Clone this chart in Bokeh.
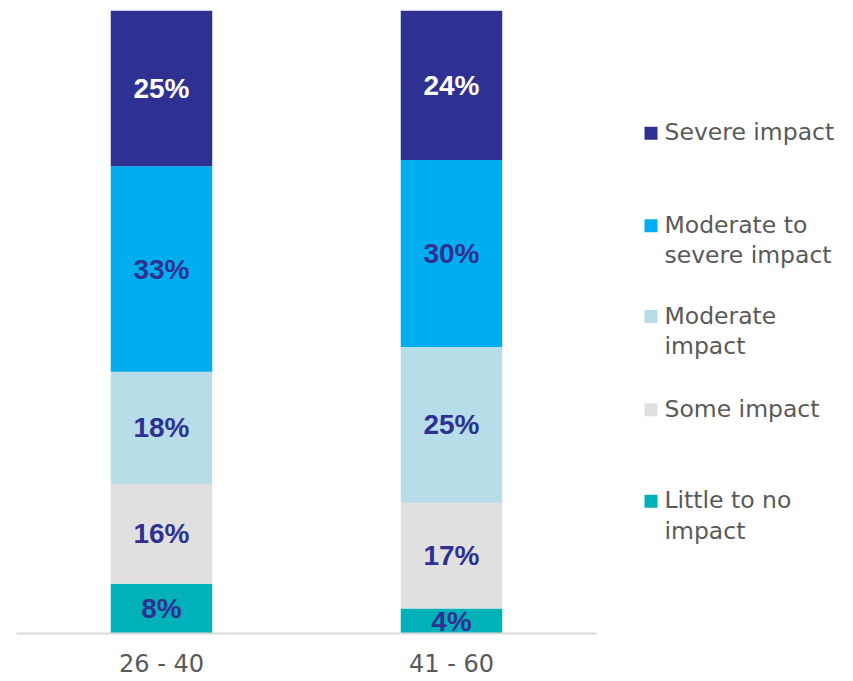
import numpy as np
from bokeh.plotting import figure
from bokeh.models import ColumnDataSource, Range1d, FactorRange
from bokeh.layouts import row
from bokeh.core.properties import value
from bokeh.embed import file_html
from bokeh.resources import INLINE

categories = ["26 - 40", "41 - 60"]
series = ["Little to no impact", "Some impact", "Moderate impact",
          "Moderate to severe impact", "Severe impact"]
little = [8, 4]
some = [16, 17]
moderate = [18, 25]
mod_severe = [33, 30]
severe = [25, 24]
colors = ["#00B1B9", "#E0E0E0", "#B7DDE8", "#00AEEF", "#2E3192"]
label_colors = ["#2E3192", "#2E3192", "#2E3192", "#2E3192", "#FFFFFF"]

keys = ["little", "some", "moderate", "mod_severe", "severe"]
vals = [little, some, moderate, mod_severe, severe]
data = {"cat": categories}
for k, v in zip(keys, vals):
    data[k] = v
src = ColumnDataSource(data)

FRAME_TOP, FRAME_BOTTOM, H = 10, 634, 680
p = figure(x_range=FactorRange(*categories, range_padding=0), y_range=Range1d(0, 100),
           width=606, height=H, output_backend="svg", toolbar_location=None,
           y_axis_location=None, min_border_left=16, min_border_right=10,
           min_border_top=FRAME_TOP, min_border_bottom=H - FRAME_BOTTOM)
p.vbar_stack(keys, x="cat", width=0.35, color=colors, line_color=None, source=src)

# segment labels
bottoms = np.zeros(len(categories))
lx, ly, lt, lc = [], [], [], []
for v, c in zip(vals, label_colors):
    v = np.array(v, dtype=float)
    mids = bottoms + v / 2
    for i, cat in enumerate(categories):
        lx.append(cat)
        ly.append(mids[i])
        lt.append(f"{int(v[i])}%")
        lc.append(c)
    bottoms = bottoms + v
lsrc = ColumnDataSource(dict(x=lx, y=ly, t=lt, c=lc))
p.text(x="x", y="y", text="t", text_color="c", source=lsrc,
       text_font=value("Liberation Sans"), text_font_style="bold",
       text_font_size="28px", text_align="center", text_baseline="middle")

p.xgrid.visible = False
p.ygrid.visible = False
p.outline_line_color = None
p.xaxis.axis_line_color = "#D9D9D9"
p.xaxis.axis_line_width = 2
p.xaxis.major_tick_line_color = None
p.xaxis.minor_tick_line_color = None
p.xaxis.major_tick_out = 0
p.xaxis.major_label_standoff = 16
p.xaxis.major_label_text_font = "DejaVu Sans"
p.xaxis.major_label_text_font_size = "24px"
p.xaxis.major_label_text_color = "#595959"
p.background_fill_color = "white"
p.border_fill_color = "white"

# legend panel (its frame is aligned with the main frame; coordinates are page pixels)
X0 = 606
LW = 240
lg = figure(width=LW, height=H, x_range=Range1d(X0, X0 + LW),
            y_range=Range1d(FRAME_BOTTOM, FRAME_TOP),
            output_backend="svg", toolbar_location=None, min_border=0,
            min_border_top=FRAME_TOP, min_border_bottom=H - FRAME_BOTTOM,
            x_axis_location=None, y_axis_location=None)
lg.xgrid.visible = False
lg.ygrid.visible = False
lg.outline_line_color = None

legend_order = [4, 3, 2, 1, 0]
legend_lines = [["Severe impact"], ["Moderate to", "severe impact"],
                ["Moderate", "impact"], ["Some impact"], ["Little to no", "impact"]]
square_y = [133, 225.5, 316.5, 410, 501.5]
line_gap = 30.5
sx, sy, sc = [], [], []
tx, ty, tt = [], [], []
for idx, lines, yy in zip(legend_order, legend_lines, square_y):
    sx.append(650.5)
    sy.append(yy)
    sc.append(colors[idx])
    for j, line in enumerate(lines):
        tx.append(664)
        ty.append(yy - 1 + j * line_gap)
        tt.append(line)
lg.scatter(x=sx, y=sy, marker="square", size=13, color=sc, line_color=None)
lg.text(x=tx, y=ty, text=tt, text_font=value("DejaVu Sans"), text_font_size="23.5px",
        text_color="#595959", text_baseline="alphabetic", text_align="left")

layout = row(p, lg)
open("out.html", "w").write(file_html(layout, INLINE))
